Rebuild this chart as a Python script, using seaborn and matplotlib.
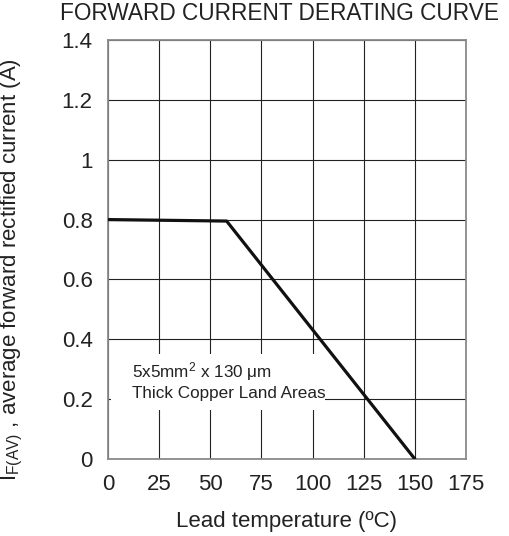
import matplotlib
matplotlib.use("Agg")
import matplotlib.pyplot as plt
import seaborn as sns
import pandas as pd
from matplotlib.patches import Rectangle

# Data
temperature = [0, 58, 150]
current = [0.80, 0.795, 0.0]
x_ticks = [0, 25, 50, 75, 100, 125, 150, 175]
y_ticks = [0, 0.2, 0.4, 0.6, 0.8, 1.0, 1.2, 1.4]
y_tick_labels = ["0", "0.2", "0.4", "0.6", "0.8", "1", "1.2", "1.4"]
note_lines = ["5x5mm$^{\\mathregular{2}}$ x 130 $\\mathregular{\\mu}$m", "Thick Copper Land Areas"]

sns.set_style("white")
plt.rcParams['font.family'] = ['Liberation Sans', 'DejaVu Sans']
plt.rcParams['mathtext.fontset'] = 'custom'
plt.rcParams['mathtext.rm'] = 'Liberation Sans'
plt.rcParams['mathtext.it'] = 'Liberation Sans:italic'

df = pd.DataFrame({"T": temperature, "I": current})

fig = plt.figure(figsize=(5.09, 5.36), dpi=100)
ax = fig.add_axes([108/509, 1-459/536, 358/509, 419/536])

sns.lineplot(data=df, x="T", y="I", ax=ax, color="#111111", linewidth=2.3, zorder=3)

ax.set_xlim(0, 175)
ax.set_ylim(0, 1.4)
ax.set_xticks(x_ticks)
ax.set_yticks(y_ticks)
ax.set_yticklabels(y_tick_labels)
ax.tick_params(axis='both', length=0, labelsize=16, colors="#222222")
ax.tick_params(axis='y', pad=11)
ax.tick_params(axis='x', pad=11)
ax.grid(True, color="#222222", linewidth=0.8)
ax.set_axisbelow(True)
for sp in ax.spines.values():
    sp.set_color("#8a8a8a")
    sp.set_linewidth(1.3)
    sp.set_visible(True)

# white mask behind note
ax.add_patch(Rectangle((1.6, 0.165), 104.4, 0.187, facecolor="white", edgecolor="none", zorder=1))
ax.text(11.5, 0.292, note_lines[0], fontsize=12.3, color="#222222", va="center", ha="left", zorder=2)
ax.text(11.5, 0.22, note_lines[1], fontsize=12.3, color="#222222", va="center", ha="left", zorder=2)

ax.set_xlabel("Lead temperature (ºC)", fontsize=16, color="#222222")
ax.xaxis.set_label_coords(0.5, -0.123)
ax.set_ylabel("I$_{\\mathregular{F(AV)}}$ , average forward rectified current (A)", fontsize=16, color="#222222")
ax.yaxis.set_label_coords(-0.232, 0.451)

fig.text(280/509, 1-13/536, "FORWARD CURRENT DERATING CURVE", fontsize=16.3, color="#222222", ha="center", va="center")

fig.savefig("out.png", dpi=100)
